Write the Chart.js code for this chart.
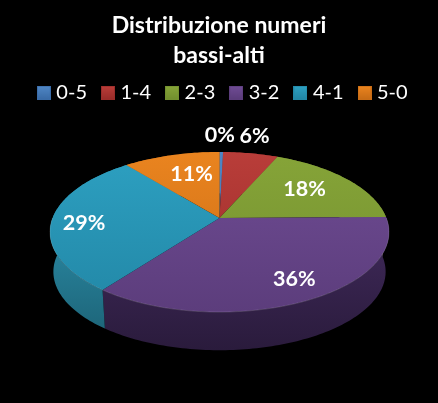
<!DOCTYPE html>
<html lang="it">
<head>
<meta charset="UTF-8">
<title>Distribuzione numeri bassi-alti</title>
<style>
  html, body { margin: 0; padding: 0; background: #000; }
  canvas { display: block; }
</style>
</head>
<body>
<canvas id="pie" width="438" height="403"></canvas>
<script src="https://cdn.jsdelivr.net/npm/chart.js@4/dist/chart.umd.min.js"></script>
<script>
const titleLines = ['Distribuzione numeri', 'bassi-alti'];
const categories = ['0-5', '1-4', '2-3', '3-2', '4-1', '5-0'];
const values = [0.4, 6.2, 18.2, 35.5, 28.8, 10.9];

const topLight = ['#4f86c4', '#b93d39', '#86a438', '#6f4c94', '#2da0c1', '#ea841f'];
const topDark = ['#3a6ca8', '#9a2d2a', '#73902f', '#5c3d7c', '#2287a6', '#c96d16'];
const sideLight = ['#2f5888', '#7a2422', '#5c7226', '#3f2959', '#2a88a2', '#a85a12'];
const sideDark = ['#234268', '#5a1a18', '#46571c', '#2a1b3c', '#1b5f72', '#7e430c'];

// position of each percent label: 1 = rim of the top face, then a small pixel nudge
const labelRadius = [1.31, 1.31, 0.65, 0.8, 0.81, 0.63];
const labelNudgeX = [-2, -4, 0, 6, 0, 4];
const labelNudgeY = [0, -1, -3, -2, 4, -2];

// tilted disc: perspective mapping of the unit circle
const cx = 219.5, apexY = 218, rimX = 166.9, rimY = 77.6, persp = 0.175;
const depth = 40, bottomScale = 0.98;

function project(t, r, bottom) {
  const u = Math.sin(t) * r, v = -Math.cos(t) * r;
  const w = 1 - persp * v;
  const s = bottom ? bottomScale : 1;
  return {
    x: cx + s * rimX * u / w,
    y: apexY + (bottom ? depth : 0) + s * rimY * v / w
  };
}

function arcPoints(start, end, bottom) {
  const n = Math.max(2, Math.ceil((end - start) / 0.02));
  const pts = [];
  for (let i = 0; i <= n; i++) pts.push(project(start + (end - start) * i / n, 1, bottom));
  return pts;
}

function fillPath(ctx, pts, fill) {
  ctx.beginPath();
  pts.forEach((p, i) => i ? ctx.lineTo(p.x, p.y) : ctx.moveTo(p.x, p.y));
  ctx.closePath();
  ctx.fillStyle = fill;
  ctx.fill();
}

function swatch(i) {
  const c = document.createElement('canvas');
  c.width = c.height = 14;
  const g = c.getContext('2d');
  g.fillStyle = topDark[i];
  g.fillRect(0, 0, 14, 14);
  const grad = g.createLinearGradient(0, 1, 0, 13);
  grad.addColorStop(0, topLight[i]);
  grad.addColorStop(1, topDark[i]);
  g.fillStyle = grad;
  g.fillRect(1, 1, 12, 12);
  return c;
}

const tiltedPie = {
  id: 'tiltedPie',
  afterLayout(chart) {
    // legend item spacing comes from labels.padding, which also pushes it down and left
    chart.legend.left += 11;
    chart.legend.right += 0;
    chart.legend.top -= 9;
  },
  beforeDatasetsDraw(chart) {
    const ctx = chart.ctx;
    const arcs = chart.getDatasetMeta(0).data;
    // chart.js angles start at -PI/2 for the top of the pie
    const angles = arcs.map(a => [a.startAngle + Math.PI / 2, a.endAngle + Math.PI / 2]);

    // outer wall first, the top face covers its hidden part
    angles.forEach(([s, e], i) => {
      const top = arcPoints(s, e, false);
      const low = arcPoints(s, e, true).reverse();
      const grad = ctx.createLinearGradient(0, 230, 0, 350);
      grad.addColorStop(0, sideLight[i]);
      grad.addColorStop(1, sideDark[i]);
      fillPath(ctx, top.concat(low), grad);
    });

    angles.forEach(([s, e], i) => {
      const grad = ctx.createLinearGradient(0, 152, 0, 312);
      grad.addColorStop(0, topLight[i]);
      grad.addColorStop(1, topDark[i]);
      fillPath(ctx, [project(0, 0, false)].concat(arcPoints(s, e, false)), grad);
    });

    // thin lit edge along the front of the rim
    ctx.beginPath();
    arcPoints(Math.PI * 0.5, Math.PI * 1.5, false).forEach((p, i) => i ? ctx.lineTo(p.x, p.y) : ctx.moveTo(p.x, p.y));
    ctx.strokeStyle = 'rgba(255,255,255,0.14)';
    ctx.lineWidth = 1;
    ctx.stroke();

    ctx.font = 'bold 21.5px Lato';
    ctx.fillStyle = '#fff';
    ctx.textAlign = 'center';
    ctx.textBaseline = 'middle';
    const total = values.reduce((a, b) => a + b, 0);
    angles.forEach(([s, e], i) => {
      const p = project((s + e) / 2, labelRadius[i], false);
      ctx.fillText(Math.round(values[i] / total * 100) + '%', p.x + labelNudgeX[i], p.y + labelNudgeY[i]);
    });
    return false;
  }
};

new Chart(document.getElementById('pie').getContext('2d'), {
  type: 'pie',
  data: {
    labels: categories,
    datasets: [{ data: values, backgroundColor: topLight, borderWidth: 0 }]
  },
  options: {
    responsive: false,
    animation: false,
    layout: { padding: { top: 10 } },
    plugins: {
      tooltip: { enabled: false },
      title: {
        display: true,
        text: titleLines,
        color: '#fff',
        font: { family: 'Lato', size: 23, weight: 'bold', lineHeight: 1.33 },
        padding: { top: 0, bottom: 2 }
      },
      legend: {
        position: 'top',
        labels: {
          color: '#fff',
          font: { family: 'Lato', size: 20 },
          usePointStyle: true,
          padding: 18.5,
          boxWidth: 5,
          generateLabels(chart) {
            return categories.map((c, i) => ({
              text: c,
              fontColor: '#fff',
              pointStyle: swatch(i),
              index: i
            }));
          }
        }
      }
    }
  },
  plugins: [tiltedPie]
});
</script>
</body>
</html>
